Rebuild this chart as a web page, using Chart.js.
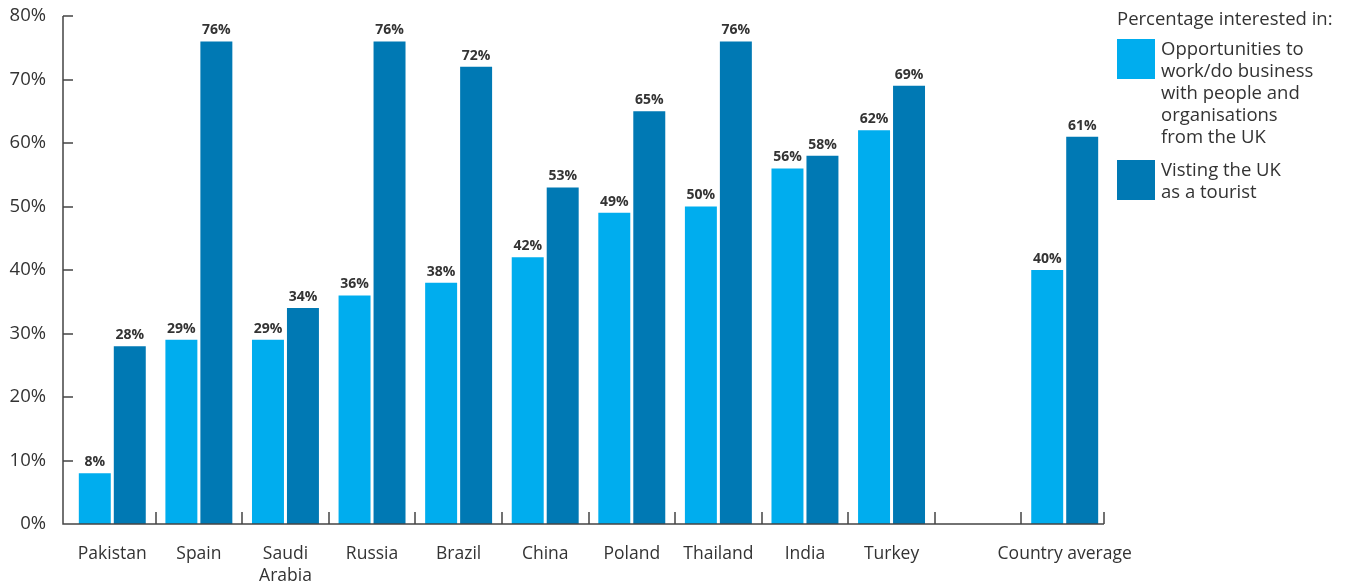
<!DOCTYPE html>
<html>
<head>
<meta charset="utf-8">
<script src="https://cdn.jsdelivr.net/npm/chart.js@4.4.1/dist/chart.umd.min.js"></script>
<style>
  html, body { margin: 0; padding: 0; background: #fff; }
  #wrap { position: relative; width: 1349px; height: 583px; }
  #legend { position: absolute; left: 1117px; top: 7px; font-family: "Open Sans", sans-serif; color: #333; font-size: 18.5px; line-height: 22px; }
  .item { display: flex; align-items: flex-start; margin-top: 8px; }
  .sw { width: 38px; height: 40px; margin-right: 6px; margin-top: 2px; flex: none; }
</style>
</head>
<body>
<div id="wrap">
  <canvas id="c" width="1349" height="583"></canvas>
  <div id="legend">
    <div>Percentage interested in:</div>
    <div class="item"><div class="sw" style="background:#00ADEE"></div><div>Opportunities to<br>work/do business<br>with people and<br>organisations<br>from the UK</div></div>
    <div class="item" style="margin-top:11px"><div class="sw" style="background:#0079B4"></div><div>Visting the UK<br>as a tourist</div></div>
  </div>
</div>
<script>
const categories = ["Pakistan", "Spain", ["Saudi", "Arabia"], "Russia", "Brazil", "China", "Poland", "Thailand", "India", "Turkey", "", "Country average"];
const businessValues = [8, 29, 29, 36, 38, 42, 49, 50, 56, 62, null, 40];
const touristValues = [28, 76, 34, 76, 72, 53, 65, 76, 58, 69, null, 61];
const seriesNames = ["Opportunities to work/do business with people and organisations from the UK", "Visting the UK as a tourist"];
const yTicks = [0, 10, 20, 30, 40, 50, 60, 70, 80];

const axisColor = '#444';
const fontFamily = '"Open Sans", sans-serif';

const innerTicks = {
  id: 'innerTicks',
  afterDraw(chart) {
    const ctx = chart.ctx, x = chart.scales.x, y = chart.scales.y, a = chart.chartArea;
    const axX = a.left - 6, endX = a.right - 4;
    ctx.save();
    ctx.strokeStyle = axisColor;
    ctx.lineWidth = 1.5;
    ctx.beginPath();
    ctx.moveTo(axX, a.top); ctx.lineTo(axX, a.bottom); ctx.lineTo(endX, a.bottom);
    yTicks.forEach(v => { const py = Math.round(y.getPixelForValue(v)); ctx.moveTo(axX, py); ctx.lineTo(axX + 10, py); });
    for (let i = 1; i < categories.length; i++) {
      const px = Math.round(x.getPixelForValue(i - 0.5));
      ctx.moveTo(px, a.bottom); ctx.lineTo(px, a.bottom - 12);
    }
    ctx.moveTo(endX, a.bottom); ctx.lineTo(endX, a.bottom - 12);
    ctx.stroke();
    // value labels
    ctx.fillStyle = '#333';
    ctx.font = 'bold 14px ' + fontFamily;
    ctx.textAlign = 'center';
    ctx.textBaseline = 'bottom';
    chart.data.datasets.forEach((ds, di) => {
      const meta = chart.getDatasetMeta(di);
      meta.data.forEach((bar, i) => {
        const v = ds.data[i];
        if (v == null) return;
        ctx.fillText(v + '%', bar.x, bar.y - 4);
      });
    });
    ctx.restore();
  }
};

new Chart(document.getElementById('c'), {
  type: 'bar',
  data: {
    labels: categories,
    datasets: [
      { label: seriesNames[0], data: businessValues, backgroundColor: '#00ADEE', categoryPercentage: 0.808, barPercentage: 0.914 },
      { label: seriesNames[1], data: touristValues, backgroundColor: '#0079B4', categoryPercentage: 0.808, barPercentage: 0.914 }
    ]
  },
  options: {
    responsive: false,
    animation: false,
    layout: { padding: { top: 16, right: 241, left: 0, bottom: 0 } },
    plugins: { legend: { display: false }, tooltip: { enabled: false } },
    scales: {
      x: {
        grid: { display: false, drawTicks: false },
        border: { display: false },
        ticks: { color: '#333', font: { family: fontFamily, size: 17.5, lineHeight: 1.25 }, padding: 19, maxRotation: 0, autoSkip: false },
        afterFit(s) { s.height = 59; }
      },
      y: {
        min: 0, max: 80,
        afterBuildTicks(s) { s.ticks = yTicks.map(v => ({ value: v })); },
        grid: { display: false, drawTicks: false },
        border: { display: false },
        ticks: { color: '#333', font: { family: fontFamily, size: 18.5 }, padding: 23, callback: v => v + '%' },
        afterFit(s) { s.width = 69; s.paddingTop = 0; s.paddingBottom = 0; }
      }
    }
  },
  plugins: [innerTicks]
});
</script>
</body>
</html>
